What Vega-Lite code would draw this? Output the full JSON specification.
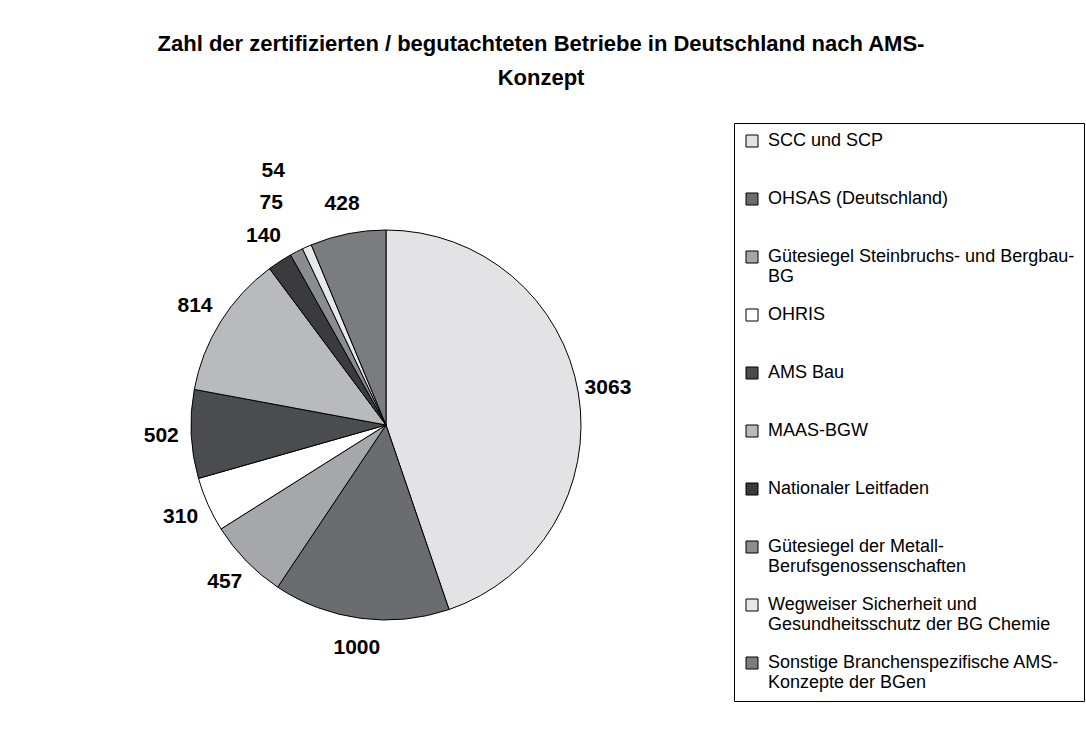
{
  "$schema": "https://vega.github.io/schema/vega-lite/v6.json",
  "width": 772,
  "height": 650,
  "autosize": {"type": "none"},
  "padding": {"left": 0, "top": 100, "right": 314, "bottom": 1},
  "background": "white",
  "config": {"view": {"stroke": null}, "font": "Liberation Sans"},
  "title": {
    "text": ["Zahl der zertifizierten / begutachteten Betriebe in Deutschland nach AMS-", "Konzept"],
    "font": "Liberation Sans",
    "fontSize": 22,
    "fontWeight": "bold",
    "color": "black",
    "lineHeight": 34,
    "anchor": "middle",
    "frame": "group",
    "dx": 155,
    "offset": 10,
    "limit": 1000
  },
  "data": {
    "values": [
      {"idx": 1, "name": "SCC und SCP", "value": 3063},
      {"idx": 2, "name": "OHSAS (Deutschland)", "value": 1000},
      {"idx": 3, "name": "Gütesiegel Steinbruchs- und Bergbau-BG", "value": 457},
      {"idx": 4, "name": "OHRIS", "value": 310},
      {"idx": 5, "name": "AMS Bau", "value": 502},
      {"idx": 6, "name": "MAAS-BGW", "value": 814},
      {"idx": 7, "name": "Nationaler Leitfaden", "value": 140},
      {"idx": 8, "name": "Gütesiegel der Metall-Berufsgenossenschaften", "value": 75},
      {"idx": 9, "name": "Wegweiser Sicherheit und Gesundheitsschutz der BG Chemie", "value": 54},
      {"idx": 10, "name": "Sonstige Branchenspezifische AMS-Konzepte der BGen", "value": 428}
    ]
  },
  "encoding": {
    "theta": {"field": "value", "type": "quantitative", "stack": true},
    "order": {"field": "idx", "type": "quantitative"}
  },
  "layer": [
    {
      "mark": {"type": "arc", "outerRadius": 195, "stroke": "black", "strokeWidth": 1},
      "encoding": {
        "color": {
          "field": "name",
          "type": "nominal",
          "scale": {
            "domain": ["SCC und SCP", "OHSAS (Deutschland)", "Gütesiegel Steinbruchs- und Bergbau-BG", "OHRIS", "AMS Bau", "MAAS-BGW", "Nationaler Leitfaden", "Gütesiegel der Metall-Berufsgenossenschaften", "Wegweiser Sicherheit und Gesundheitsschutz der BG Chemie", "Sonstige Branchenspezifische AMS-Konzepte der BGen"],
            "range": ["#e3e3e5", "#6b6c70", "#a6a7aa", "#ffffff", "#4b4c50", "#b9babd", "#3b3b3e", "#8b8c90", "#e8e8ea", "#7b7c80"]
          },
          "legend": {
            "orient": "none",
            "legendX": 734,
            "legendY": 23,
            "title": null,
            "symbolType": "square",
            "symbolSize": 144,
            "symbolStrokeColor": "black",
            "symbolStrokeWidth": 1,
            "labelFont": "Liberation Sans",
            "labelFontSize": 18,
            "labelColor": "black",
            "labelOffset": 7,
            "labelLimit": 400,
            "rowPadding": 20,
            "padding": 9,
            "strokeColor": "black",
            "fillColor": "white",
            "cornerRadius": 0,
            "labelExpr": "datum.label == 'Gütesiegel Steinbruchs- und Bergbau-BG' ? ['Gütesiegel Steinbruchs- und Bergbau-', 'BG'] : datum.label == 'Gütesiegel der Metall-Berufsgenossenschaften' ? ['Gütesiegel der Metall-', 'Berufsgenossenschaften'] : datum.label == 'Wegweiser Sicherheit und Gesundheitsschutz der BG Chemie' ? ['Wegweiser Sicherheit und', 'Gesundheitsschutz der BG Chemie'] : datum.label == 'Sonstige Branchenspezifische AMS-Konzepte der BGen' ? ['Sonstige Branchenspezifische AMS-', 'Konzepte der BGen'] : [datum.label, '']"
          }
        }
      }
    },
    {
      "mark": {"type": "text", "radius": 225, "fontSize": 21, "fontWeight": "bold", "font": "Liberation Sans", "color": "black"},
      "encoding": {
        "text": {"field": "value", "type": "quantitative", "format": "d"},
        "opacity": {"condition": {"test": "datum.idx == 8 || datum.idx == 9", "value": 0}, "value": 1}
      }
    },
    {
      "mark": {"type": "text", "radius": 250, "fontSize": 21, "fontWeight": "bold", "font": "Liberation Sans", "color": "black"},
      "encoding": {
        "text": {"field": "value", "type": "quantitative", "format": "d"},
        "opacity": {"condition": {"test": "datum.idx == 8", "value": 1}, "value": 0}
      }
    },
    {
      "mark": {"type": "text", "radius": 278, "fontSize": 21, "fontWeight": "bold", "font": "Liberation Sans", "color": "black"},
      "encoding": {
        "text": {"field": "value", "type": "quantitative", "format": "d"},
        "opacity": {"condition": {"test": "datum.idx == 9", "value": 1}, "value": 0}
      }
    }
  ]
}
